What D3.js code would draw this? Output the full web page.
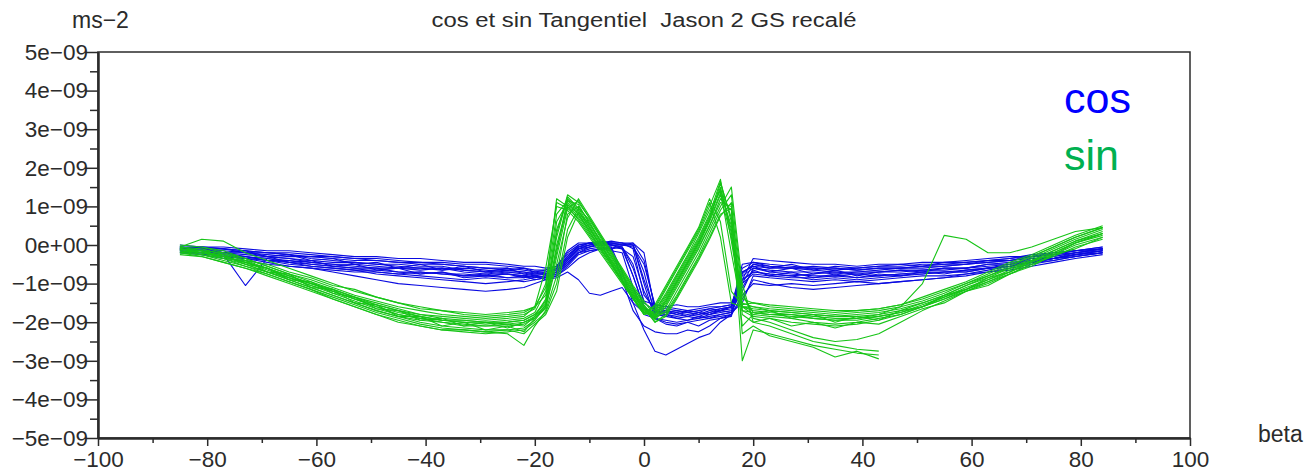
<!DOCTYPE html>
<html>
<head>
<meta charset="utf-8">
<script src="https://cdn.jsdelivr.net/npm/d3@7"></script>
<style>
    body { margin: 0; background: #fff; }
    text { font-family: "Liberation Sans", Arial, sans-serif; }
</style>
</head>
<body>
<svg id="chart" width="1310" height="473"></svg>
<script>
// beta positions shared by every run (degrees)
const betaGrid = [-85, -81, -77, -73, -69, -65, -61, -57, -53, -49,
    -45, -41, -37, -33, -29, -25, -22, -20, -18, -16,
    -14, -12, -10, -8, -6, -4, -2, 0, 2, 4,
    6, 8, 10, 12, 14, 16, 18, 20, 23, 27,
    31, 35, 39, 43, 47, 51, 55, 59, 63, 67,
    71, 75, 79, 84];

// values in units of 1e-09 m/s2, one array per pass
const cosRuns = [
    [-0.05, -0.1, -0.15, -0.2, -0.25, -0.3, -0.3, -0.35, -0.4, -0.4, -0.45, -0.5, -0.5, -0.55, -0.6, -0.6, -0.65, -0.7, -0.7, -0.6, -0.3, -0.05, 0, 0.05, 0.05, 0, 0, -0.9, -1.7, -1.75, -1.8, -1.75, -1.8, -1.7, -1.65, -1.6, -0.5, -0.45, -0.5, -0.55, -0.6, -0.6, -0.65, -0.6, -0.6, -0.55, -0.55, -0.5, -0.45, -0.4, -0.35, -0.3, -0.2, -0.1],
    [-0.1, -0.15, -0.2, -0.3, -0.35, -0.4, -0.45, -0.5, -0.5, -0.55, -0.6, -0.65, -0.6, -0.7, -0.75, -0.7, -0.75, -0.8, -0.85, -0.7, -0.4, -0.1, -0.05, 0, -0.05, -0.7, -1.5, -1.75, -1.85, -1.8, -1.9, -1.85, -1.9, -1.8, -1.75, -1.7, -1.2, -0.6, -0.7, -0.75, -0.8, -0.8, -0.75, -0.8, -0.75, -0.7, -0.7, -0.65, -0.6, -0.55, -0.45, -0.35, -0.25, -0.15],
    [0, -0.05, -0.05, -0.1, -0.15, -0.15, -0.2, -0.25, -0.3, -0.3, -0.35, -0.35, -0.4, -0.45, -0.45, -0.5, -0.55, -0.55, -0.6, -0.55, -0.2, 0, 0.05, 0.1, 0.05, 0.05, 0.05, -0.4, -1.6, -1.65, -1.7, -1.75, -1.7, -1.65, -1.6, -1.55, -0.9, -0.35, -0.4, -0.45, -0.5, -0.5, -0.55, -0.5, -0.5, -0.45, -0.45, -0.4, -0.35, -0.3, -0.3, -0.25, -0.15, -0.05],
    [-0.1, -0.15, -0.25, -1.05, -0.35, -0.45, -0.5, -0.55, -0.6, -0.7, -0.75, -0.8, -0.85, -0.9, -0.85, -0.9, -0.95, -0.9, -0.85, -0.8, -0.55, -0.25, -0.15, -0.1, -0.15, -0.2, -1.1, -1.8, -1.9, -1.95, -2.0, -1.95, -1.9, -1.85, -1.8, -1.75, -1.5, -0.8, -0.85, -0.9, -0.95, -0.9, -0.95, -0.9, -0.85, -0.8, -0.8, -0.75, -0.7, -0.6, -0.5, -0.4, -0.3, -0.2],
    [-0.15, -0.2, -0.3, -0.35, -0.45, -0.55, -0.6, -0.7, -0.8, -0.9, -1.0, -1.05, -1.1, -1.15, -1.2, -1.15, -1.1, -1.0, -0.9, -0.85, -0.7, -0.9, -1.25, -1.3, -1.2, -1.1, -1.5, -2.2, -2.75, -2.85, -2.7, -2.55, -2.4, -2.3, -2.0, -1.8, -1.3, -1.0, -1.05, -1.0, -1.05, -1.0, -0.95, -1.0, -0.95, -0.9, -0.85, -0.8, -0.7, -0.65, -0.55, -0.45, -0.35, -0.25],
    [-0.05, -0.05, -0.1, -0.15, -0.2, -0.2, -0.25, -0.3, -0.35, -0.35, -0.4, -0.45, -0.45, -0.5, -0.5, -0.55, -0.6, -0.65, -0.65, -0.55, -0.25, -0.05, 0.05, 0.05, 0.1, 0.05, -0.1, -1.3, -1.65, -1.7, -1.75, -1.7, -1.75, -1.8, -1.7, -1.65, -0.7, -0.55, -0.6, -0.6, -0.65, -0.7, -0.7, -0.65, -0.6, -0.6, -0.55, -0.5, -0.45, -0.4, -0.3, -0.25, -0.15, -0.1],
    [-0.2, -0.25, -0.35, -0.4, -0.5, -0.55, -0.6, -0.65, -0.7, -0.7, -0.75, -0.7, -0.75, -0.8, -0.8, -0.75, -0.8, -0.85, -0.8, -0.75, -0.5, -0.2, -0.1, -0.05, -0.1, -0.9, -1.7, -2.1, -2.25, -2.3, -2.3, -2.2, -2.25, -2.1, -1.9, -1.8, -1.0, -0.75, -0.8, -0.85, -0.85, -0.8, -0.85, -0.8, -0.75, -0.75, -0.7, -0.7, -0.6, -0.5, -0.45, -0.35, -0.25, -0.15],
    [-0.1, -0.1, -0.2, -0.25, -0.3, -0.35, -0.45, -0.5, -0.55, -0.6, -0.6, -0.6, -0.65, -0.6, -0.65, -0.7, -0.7, -0.75, -0.75, -0.65, -0.35, -0.1, 0, 0, 0, -0.1, -0.3, -1.2, -1.75, -1.8, -1.85, -1.8, -1.85, -1.75, -1.7, -1.6, -0.8, -0.6, -0.65, -0.7, -0.7, -0.75, -0.7, -0.7, -0.65, -0.65, -0.6, -0.6, -0.5, -0.45, -0.4, -0.3, -0.2, -0.1],
    [null, -0.05, -0.1, -0.15, -0.2, -0.25, -0.35, -0.4, -0.45, -0.5, -0.5, -0.55, -0.55, -0.65, -0.7, -0.65, -0.7, -0.75, -0.75, -0.7, -0.45, -0.15, -0.05, 0, 0, 0, -0.05, -0.5, -1.55, -1.6, -1.65, -1.7, -1.65, -1.6, -1.6, -1.55, -1.0, -0.5, -0.55, -0.6, -0.6, -0.65, -0.6, -0.55, -0.55, -0.5, -0.5, -0.45, -0.4, -0.35, -0.25, -0.2, -0.15, -0.05],
    [-0.15, -0.2, -0.25, -0.3, -0.4, -0.45, -0.55, -0.6, -0.65, -0.75, -0.8, -0.85, -0.9, -0.95, -1.0, -0.95, -0.9, -0.85, -0.8, -0.7, -0.45, -0.2, -0.15, -0.1, -0.05, -0.1, -0.8, -1.6, -1.9, -2.0, -2.05, -2.0, -1.95, -1.9, -1.85, -1.8, -1.4, -0.9, -1.0, -1.1, -1.15, -1.1, -1.05, -1.0, -0.95, -0.9, -0.85, -0.75, -0.65, -0.55, -0.45, -0.35, -0.25, -0.2],
    [-0.05, -0.15, -0.2, -0.2, -0.3, -0.35, -0.4, -0.45, -0.45, -0.5, -0.55, -0.6, -0.6, -0.65, -0.7, -0.75, -0.8, -0.75, -0.7, -0.6, -0.3, 0, 0.05, 0.05, 0, -0.05, -0.5, -1.5, -1.7, -1.75, -1.7, -1.75, -1.8, -1.75, -1.65, -1.6, -0.6, -0.45, -0.55, -0.6, -0.55, -0.6, -0.65, -0.6, -0.6, -0.55, -0.5, -0.5, -0.4, -0.4, -0.3, -0.25, -0.2, -0.1],
    [-0.1, -0.2, -0.3, -0.35, -0.4, -0.5, -0.55, -0.6, -0.65, -0.65, -0.7, -0.7, -0.75, -0.75, -0.8, -0.85, -0.85, -0.8, -0.75, -0.65, -0.4, -0.1, 0, 0.05, 0, 0, 0, -0.7, -1.8, -1.85, -1.9, -1.95, -1.85, -1.9, -1.8, -1.75, -0.9, -0.7, -0.75, -0.8, -0.75, -0.7, -0.75, -0.7, -0.7, -0.65, -0.65, -0.6, -0.55, -0.5, -0.4, -0.35, -0.25, -0.15],
    [-0.1, -0.05, -0.2, -0.15, -0.3, -0.25, -0.4, -0.35, -0.5, -0.45, -0.6, -0.5, -0.65, -0.55, -0.7, -0.6, -0.75, -0.7, -0.75, -0.6, -0.35, -0.05, 0.05, 0, 0.05, 0, 0.05, -0.2, -1.7, -1.8, -1.75, -1.85, -1.75, -1.8, -1.7, -1.75, -0.7, -0.55, -0.7, -0.6, -0.75, -0.65, -0.8, -0.7, -0.65, -0.7, -0.6, -0.6, -0.5, -0.5, -0.35, -0.35, -0.2, -0.15],
    [-0.15, -0.25, -0.2, -0.35, -0.3, -0.45, -0.4, -0.55, -0.5, -0.65, -0.6, -0.75, -0.7, -0.8, -0.75, -0.85, -0.8, -0.9, -0.85, -0.75, -0.5, -0.2, -0.05, 0.05, 0, -0.05, -0.8, -1.65, -1.75, -1.7, -1.8, -1.7, -1.75, -1.65, -1.7, -1.6, -1.1, -0.65, -0.8, -0.7, -0.85, -0.75, -0.85, -0.75, -0.8, -0.7, -0.75, -0.65, -0.6, -0.55, -0.45, -0.4, -0.3, -0.2],
    [-0.05, -0.1, -0.1, -0.2, -0.2, -0.25, -0.3, -0.3, -0.35, -0.4, -0.45, -0.45, -0.5, -0.55, -0.6, -0.65, -0.6, -0.7, -0.65, -0.55, -0.15, 0.05, 0.05, 0.05, 0.05, 0.05, 0, -1.0, -1.9, -2.05, -2.1, -2.0, -2.1, -1.95, -1.9, -1.85, -0.75, -0.5, -0.6, -0.5, -0.65, -0.55, -0.6, -0.55, -0.5, -0.55, -0.45, -0.45, -0.4, -0.35, -0.3, -0.2, -0.15, -0.1],
    [-0.2, -0.2, -0.3, -0.3, -0.4, -0.4, -0.5, -0.55, -0.6, -0.6, -0.7, -0.75, -0.7, -0.85, -0.8, -0.75, -0.85, -0.8, -0.9, -0.8, -0.6, -0.35, -0.2, -0.1, -0.1, -0.05, -0.6, -1.45, -1.55, -1.6, -1.55, -1.6, -1.6, -1.55, -1.5, -1.5, -0.9, -0.7, -0.75, -0.8, -0.9, -0.85, -0.9, -0.85, -0.8, -0.75, -0.7, -0.7, -0.6, -0.55, -0.45, -0.35, -0.3, -0.2]
];

const sinRuns = [
    [-0.1, -0.15, -0.3, -0.45, -0.65, -0.85, -1.0, -1.2, -1.4, -1.6, -1.75, -1.85, -1.95, -2.0, -2.05, -2.0, -1.95, -1.8, -1.5, -0.2, 1.2, 0.9, 0.45, 0, -0.45, -0.9, -1.3, -1.7, -1.8, -1.4, -0.9, -0.4, 0.1, 0.7, 1.5, 0.3, -1.6, -1.7, -1.75, -1.8, -1.85, -1.9, -1.9, -1.85, -1.75, -1.55, -1.35, -1.1, -0.9, -0.7, -0.45, -0.2, 0.05, 0.3],
    [0, -0.05, -0.2, -0.35, -0.55, -0.75, -0.95, -1.15, -1.35, -1.5, -1.65, -1.8, -1.85, -1.9, -1.95, -1.9, -1.85, -1.6, -0.6, 1.0, 0.9, 0.6, 0.2, -0.2, -0.6, -1.0, -1.4, -1.75, -1.6, -1.1, -0.6, -0.1, 0.4, 1.1, 0.2, -1.5, -1.6, -1.65, -1.7, -1.75, -1.8, -1.85, -1.8, -1.75, -1.65, -1.5, -1.3, -1.05, -0.85, -0.6, -0.35, -0.1, 0.15, 0.4],
    [-0.2, -0.25, -0.4, -0.55, -0.75, -0.95, -1.15, -1.35, -1.55, -1.75, -1.9, -2.05, -2.15, -2.2, -2.25, -2.3, -2.6, -2.1, -1.7, -0.8, 0.8, 1.0, 0.6, 0.1, -0.35, -0.8, -1.25, -1.65, -1.95, -1.6, -1.1, -0.6, -0.1, 0.5, 1.2, 0.9, -3.0, -2.2, -2.3, -2.45, -2.6, -2.7, -2.8, -2.85, null, null, null, null, null, null, null, null, null, null],
    [-0.05, 0.15, 0.1, -0.2, -0.4, -0.6, -0.8, -1.0, -1.2, -1.35, -1.5, -1.6, -1.7, -1.75, -1.8, -1.75, -1.7, -1.6, -1.3, 0.3, 1.3, 1.1, 0.7, 0.25, -0.2, -0.65, -1.1, -1.5, -1.7, -1.3, -0.8, -0.3, 0.2, 0.8, 1.65, 0.6, -1.4, -1.5, -1.55, -1.6, -1.65, -1.7, -1.7, -1.65, -1.55, -1.4, -1.2, -1.0, -0.8, -0.55, -0.3, -0.05, 0.2, 0.45],
    [-0.15, -0.2, -0.35, -0.5, -0.7, -0.9, -1.1, -1.3, -1.5, -1.7, -1.85, -1.95, -2.0, -2.1, -2.1, -2.05, -2.0, -1.85, -1.4, 0.6, 1.1, 0.8, 0.35, -0.05, -0.5, -0.95, -1.35, -1.8, -1.7, -1.25, -0.75, -0.25, 0.3, 0.9, 1.4, -0.2, -1.7, -1.75, -1.8, -1.85, -1.9, -1.95, -1.9, -1.8, -1.6, -1.0, 0.25, 0.15, -0.2, -0.2, -0.05, 0.15, 0.35, 0.45],
    [-0.1, -0.2, -0.3, -0.5, -0.7, -0.85, -1.05, -1.25, -1.45, -1.65, -1.8, -1.9, -2.0, -2.05, -2.1, -2.1, -2.05, -1.9, -1.6, -0.5, 0.7, 1.2, 0.75, 0.3, -0.15, -0.6, -1.05, -1.45, -1.85, -1.75, -1.3, -0.8, -0.3, 0.3, 0.9, 1.3, -1.2, -1.9, -2.0, -2.2, -2.4, -2.5, -2.45, -2.3, -2.0, -1.7, -1.45, -1.2, -0.95, -0.75, -0.5, -0.25, 0, 0.2],
    [-0.05, -0.1, -0.25, -0.4, -0.6, -0.8, -1.0, -1.15, -1.35, -1.55, -1.7, -1.8, -1.9, -1.95, -2.0, -1.95, -1.9, -1.75, -1.2, 0.8, 1.15, 0.85, 0.45, 0, -0.4, -0.85, -1.3, -1.65, -1.85, -1.5, -1.0, -0.5, 0, 0.6, 1.3, 0.2, -1.5, -1.6, -1.7, -1.75, -1.8, -1.85, -1.85, -1.8, -1.7, -1.5, -1.3, -1.05, -0.8, -0.6, -0.4, -0.15, 0.1, 0.35],
    [-0.2, -0.3, -0.45, -0.6, -0.8, -1.0, -1.2, -1.4, -1.6, -1.8, -1.95, -2.1, -2.2, -2.25, -2.3, -2.25, -2.2, -2.0, -1.75, -1.0, 0.4, 0.95, 0.65, 0.2, -0.25, -0.7, -1.15, -1.6, -2.0, -1.85, -1.4, -0.9, -0.4, 0.15, 0.75, 1.1, -1.8, -2.0, -2.1, -2.3, -2.5, -2.6, -2.7, -2.75, null, null, null, null, null, null, null, null, null, null],
    [null, -0.05, -0.15, -0.35, -0.55, -0.75, -0.9, -1.1, -1.3, -1.45, -1.6, -1.7, -1.8, -1.85, -1.9, -1.85, -1.8, -1.65, -1.0, 1.1, 0.95, 0.7, 0.3, -0.1, -0.5, -0.9, -1.35, -1.75, -1.65, -1.15, -0.65, -0.15, 0.35, 1.0, 1.7, 0.1, -1.6, -1.6, -1.65, -1.7, -1.75, -1.8, -1.75, -1.7, -1.6, -1.45, -1.25, -1.0, -0.75, -0.5, -0.3, -0.05, 0.2, 0.45],
    [-0.1, -0.15, -0.3, -0.45, -0.6, -0.8, -1.0, -1.2, -1.4, -1.6, -1.8, -1.9, -1.95, -2.0, -2.0, -2.05, -2.1, -1.85, -1.55, -0.1, 1.0, 0.75, 0.35, -0.1, -0.5, -0.95, -1.4, -1.8, -1.75, -1.35, -0.85, -0.35, 0.15, 0.75, 1.45, 0.4, -2.1, -1.8, -1.85, -1.9, -2.0, -2.05, -2.0, -1.9, -1.8, -1.6, -1.4, -1.15, -0.95, -0.7, -0.45, -0.2, 0.05, 0.3],
    [-0.15, -0.2, -0.3, -0.45, -0.6, -0.85, -1.05, -1.2, -1.4, -1.55, -1.7, -1.85, -1.95, -1.95, -2.0, -2.0, -1.95, -1.8, -1.45, 0.2, 1.25, 0.95, 0.5, 0.05, -0.4, -0.8, -1.25, -1.7, -1.9, -1.55, -1.05, -0.55, -0.05, 0.5, 1.1, 1.0, -1.3, -1.75, -1.8, -1.8, -1.9, -1.95, -1.95, -1.85, -1.75, -1.6, -1.35, -1.15, -0.9, -0.65, -0.4, -0.15, 0.1, 0.3],
    [-0.25, -0.3, -0.45, -0.6, -0.75, -0.95, -1.15, -1.4, -1.6, -1.8, -2.0, -2.1, -2.2, -2.2, -2.25, -2.2, -2.15, -1.95, -1.6, 0, 1.05, 0.8, 0.4, 0, -0.45, -0.9, -1.35, -1.75, -1.85, -1.45, -0.95, -0.45, 0.05, 0.65, 1.35, 0.5, -1.7, -1.85, -1.9, -2.0, -2.05, -2.1, -2.05, -1.95, -1.8, -1.6, -1.4, -1.2, -1.0, -0.75, -0.5, -0.3, -0.05, 0.15],
    [-0.1, -0.2, -0.25, -0.5, -0.6, -0.9, -0.95, -1.25, -1.35, -1.65, -1.7, -1.95, -1.9, -2.1, -2.0, -2.15, -2.0, -1.9, -1.55, 0.4, 1.15, 1.05, 0.55, 0.15, -0.3, -0.75, -1.2, -1.6, -1.8, -1.45, -0.95, -0.45, 0.05, 0.65, 1.6, 0.7, -1.6, -1.8, -1.7, -1.9, -1.8, -2.0, -1.85, -1.95, -1.7, -1.6, -1.3, -1.15, -0.85, -0.7, -0.4, -0.25, 0.05, 0.25],
    [-0.2, -0.15, -0.35, -0.4, -0.7, -0.75, -1.1, -1.15, -1.5, -1.55, -1.85, -1.85, -2.1, -2.0, -2.2, -2.1, -2.25, -1.9, -1.65, -0.3, 0.95, 1.15, 0.7, 0.25, -0.2, -0.65, -1.1, -1.55, -1.9, -1.7, -1.2, -0.7, -0.2, 0.4, 1.0, 1.5, -1.0, -2.0, -1.9, -2.1, -2.0, -2.15, -2.0, -2.05, -1.85, -1.65, -1.5, -1.2, -1.05, -0.75, -0.55, -0.25, -0.1, 0.2],
    [-0.05, -0.15, -0.2, -0.4, -0.5, -0.7, -0.85, -1.05, -1.15, -1.35, -1.5, -1.65, -1.7, -1.8, -1.85, -1.8, -1.75, -1.6, -1.1, 1.2, 1.0, 0.65, 0.25, -0.15, -0.55, -0.95, -1.4, -1.8, -1.55, -1.05, -0.55, -0.05, 0.45, 1.2, 0.6, -1.2, -1.55, -1.5, -1.6, -1.65, -1.7, -1.75, -1.7, -1.65, -1.55, -1.35, -1.15, -0.95, -0.7, -0.45, -0.25, 0, 0.25, 0.5],
    [-0.15, -0.25, -0.35, -0.55, -0.7, -0.9, -1.1, -1.3, -1.5, -1.7, -1.85, -2.0, -2.1, -2.15, -2.2, -2.2, -2.3, -2.05, -1.8, -1.2, 0.2, 0.85, 0.55, 0.1, -0.3, -0.75, -1.2, -1.65, -2.0, -1.8, -1.35, -0.85, -0.35, 0.2, 0.8, 0.95, -2.3, -2.1, -2.35, -2.5, -2.65, -2.9, -2.75, -2.95, null, null, null, null, null, null, null, null, null, null]
];

const unit = 1e-9;

const xTickValues = [-100, -80, -60, -40, -20, 0, 20, 40, 60, 80, 100];
const xTickLabels = ["\u2212100", "\u221280", "\u221260", "\u221240", "\u221220", "0", "20", "40", "60", "80", "100"];
const xMinorTicks = [-90, -70, -50, -30, -10, 10, 30, 50, 70, 90];

const yTickValues = [-5, -4, -3, -2, -1, 0, 1, 2, 3, 4, 5];
const yTickLabels = ["\u22125e\u221209", "\u22124e\u221209", "\u22123e\u221209", "\u22122e\u221209", "\u22121e\u221209", "0e+00",
    "1e\u221209", "2e\u221209", "3e\u221209", "4e\u221209", "5e\u221209"];
const yMinorTicks = [-4.5, -3.5, -2.5, -1.5, -0.5, 0.5, 1.5, 2.5, 3.5, 4.5];

const svg = d3.select("#chart");

const x = d3.scaleLinear().domain([-100, 100]).range([98, 1190]);
const y = d3.scaleLinear().domain([-5 * unit, 5 * unit]).range([438, 52]);

const inkColour = "#2b2b2b";
const tickFont = 22.5;

// frame around the plot area
svg.append("rect")
    .attr("x", x(-100))
    .attr("y", y(5 * unit))
    .attr("width", x(100) - x(-100))
    .attr("height", y(-5 * unit) - y(5 * unit))
    .attr("fill", "none")
    .attr("stroke", inkColour)
    .attr("stroke-width", 1.5);

const line = d3.line()
    .defined(d => d[1] !== null)
    .x(d => x(d[0]))
    .y(d => y(d[1] * unit));

function drawRuns(runs, colour) {
    svg.append("g")
        .selectAll("path")
        .data(runs)
        .enter().append("path")
        .attr("d", run => line(run.map((v, i) => [betaGrid[i], v])))
        .attr("fill", "none")
        .attr("stroke", colour)
        .attr("stroke-width", 1.1)
        .attr("stroke-linejoin", "round");
}

drawRuns(cosRuns, "#0a0ae0");
drawRuns(sinRuns, "#16c416");

// x axis, major then minor ticks
svg.append("g")
    .attr("transform", `translate(0,${y(-5 * unit)})`)
    .call(d3.axisBottom(x)
        .tickValues(xTickValues)
        .tickSize(8)
        .tickSizeOuter(0)
        .tickPadding(5)
        .tickFormat((d, i) => xTickLabels[i]));

svg.append("g")
    .attr("transform", `translate(0,${y(-5 * unit)})`)
    .call(d3.axisBottom(x).tickValues(xMinorTicks).tickSize(5).tickSizeOuter(0).tickFormat(""));

// y axis
svg.append("g")
    .attr("transform", `translate(${x(-100)},0)`)
    .call(d3.axisLeft(y)
        .tickValues(yTickValues.map(v => v * unit))
        .tickSize(12)
        .tickSizeOuter(0)
        .tickPadding(-2)
        .tickFormat((d, i) => yTickLabels[i]));

svg.append("g")
    .attr("transform", `translate(${x(-100)},0)`)
    .call(d3.axisLeft(y).tickValues(yMinorTicks.map(v => v * unit)).tickSize(8).tickSizeOuter(0).tickFormat(""));

svg.selectAll(".domain").attr("stroke", inkColour).attr("stroke-width", 2);
svg.selectAll(".tick line").attr("stroke", inkColour).attr("stroke-width", 1.5);
svg.selectAll(".tick text")
    .attr("fill", inkColour)
    .attr("font-size", tickFont)
    .attr("font-family", "'Liberation Sans', Arial, sans-serif");

// titles
svg.append("text")
    .attr("x", 644)
    .attr("y", 27)
    .attr("text-anchor", "middle")
    .attr("font-size", 19.5)
    .attr("textLength", 425)
    .attr("lengthAdjust", "spacingAndGlyphs")
    .attr("fill", inkColour)
    .attr("xml:space", "preserve")
    .text("cos et sin Tangentiel  Jason 2 GS recalé");

svg.append("text")
    .attr("x", 72)
    .attr("y", 28)
    .attr("font-size", 23)
    .attr("fill", inkColour)
    .text("ms\u22122");

svg.append("text")
    .attr("x", 1258)
    .attr("y", 442)
    .attr("font-size", 23)
    .attr("fill", inkColour)
    .text("beta");

// legend
svg.append("text")
    .attr("x", 1064)
    .attr("y", 113)
    .attr("font-size", 43)
    .attr("fill", "#0000ff")
    .text("cos");

svg.append("text")
    .attr("x", 1064)
    .attr("y", 170)
    .attr("font-size", 43)
    .attr("fill", "#00b050")
    .text("sin");
</script>
</body>
</html>
